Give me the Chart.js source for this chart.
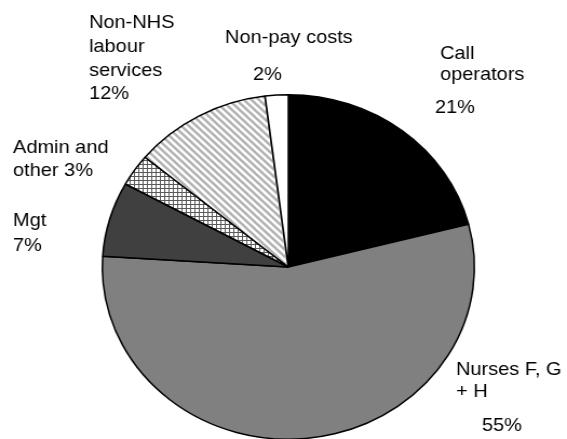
<!DOCTYPE html>
<html>
<head>
<meta charset="utf-8">
<title>Cost breakdown</title>
<script src="https://cdn.jsdelivr.net/npm/chart.js@4.4.1/dist/chart.umd.min.js"></script>
<style>
    html, body {
        margin: 0;
        padding: 0;
        background: #ffffff;
        overflow: hidden;
    }
    /* the whole chart is stretched a little wider than tall */
    .chart-box {
        position: absolute;
        left: 0;
        top: 0;
        width: 525px;
        height: 446px;
        transform: scaleX(1.08);
        transform-origin: 0 0;
    }
</style>
</head>
<body>
<div class="chart-box">
    <canvas id="costPie"></canvas>
</div>

<script>
// slices, clockwise from 12 o'clock
const categories = [
    ['Call', 'operators'],
    ['Nurses F, G', '+ H'],
    ['Mgt'],
    ['Admin and', 'other'],
    ['Non-NHS', 'labour', 'services'],
    ['Non-pay costs']
];
const shares = [21, 55, 7, 3, 12, 2];

const STRETCH = 1.08;

// where each label line sits (page px); pct: null means "append to last line"
const labelSpots = [
    { lines: [[440, 59], [440, 80]], pct: [435, 113] },
    { lines: [[456, 375], [456, 397]], pct: [482, 431] },
    { lines: [[13, 226]], pct: [13, 251] },
    { lines: [[13, 153], [13, 176]], pct: null },
    { lines: [[89, 28], [89, 52], [89, 76]], pct: [89, 99] },
    { lines: [[225, 43]], pct: [253, 80] }
];

function makeTile(size, drawFn) {
    const tile = document.createElement('canvas');
    tile.width = size;
    tile.height = size;
    const tctx = tile.getContext('2d');
    tctx.fillStyle = '#ffffff';
    tctx.fillRect(0, 0, size, size);
    drawFn(tctx, size);
    return tctx.createPattern(tile, 'repeat');
}

// small grey grid
const crossHatch = makeTile(4, function (c, s) {
    c.fillStyle = '#5a5a5a';
    c.fillRect(0, 0, s, 1);
    c.fillRect(0, 0, 1, s);
});

// wide downward diagonal stripes
const diagStripes = makeTile(7, function (c, s) {
    c.strokeStyle = '#b4b4b4';
    c.lineWidth = 2.6;
    [-s, 0, s].forEach(function (k) {
        c.beginPath();
        c.moveTo(k - 1, -1);
        c.lineTo(k + s + 1, s + 1);
        c.stroke();
    });
});

const sliceFills = ['#000000', '#808080', '#404040', crossHatch, diagStripes, '#ffffff'];

const pieLabels = {
    id: 'pieLabels',
    afterDraw(chart) {
        const ctx = chart.ctx;
        ctx.save();
        ctx.fillStyle = '#000000';
        ctx.font = '18.5px "Liberation Sans", Arial, sans-serif';
        ctx.textBaseline = 'alphabetic';
        ctx.textAlign = 'left';
        categories.forEach(function (lines, i) {
            const spot = labelSpots[i];
            const pctText = shares[i] + '%';
            lines.forEach(function (line, j) {
                let text = line;
                if (!spot.pct && j === lines.length - 1) {
                    text = line + ' ' + pctText;
                }
                ctx.fillText(text, spot.lines[j][0] / STRETCH, spot.lines[j][1]);
            });
            if (spot.pct) {
                ctx.fillText(pctText, spot.pct[0] / STRETCH, spot.pct[1]);
            }
        });
        ctx.restore();
    }
};

new Chart(document.getElementById('costPie'), {
    type: 'pie',
    data: {
        labels: categories.map(function (l) { return l.join(' '); }),
        datasets: [{
            data: shares,
            backgroundColor: sliceFills,
            borderColor: '#000000',
            borderWidth: 1.5
        }]
    },
    options: {
        responsive: true,
        maintainAspectRatio: false,
        animation: false,
        layout: {
            padding: { left: 94, right: 85, top: 94, bottom: 6 }
        },
        plugins: {
            legend: { display: false },
            tooltip: { enabled: false }
        }
    },
    plugins: [pieLabels]
});
</script>
</body>
</html>
